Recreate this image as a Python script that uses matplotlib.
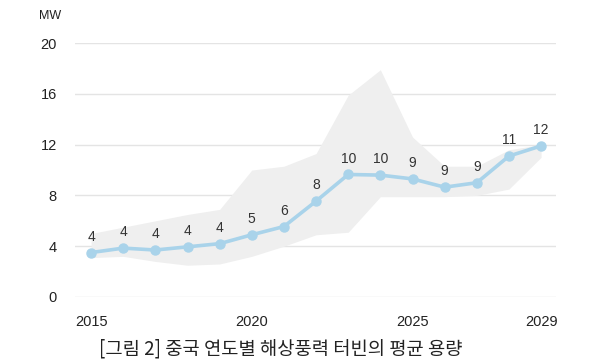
import numpy as np
import matplotlib.pyplot as plt

plt.rcParams['font.family'] = ['Liberation Sans', 'Noto Sans CJK KR', 'DejaVu Sans']

# average offshore turbine capacity by year (MW)
years = np.arange(2015, 2030)
avg_mw = [3.5, 3.85, 3.7, 3.95, 4.2, 4.9, 5.55, 7.55, 9.65, 9.6, 9.3, 8.65, 9.0, 11.1, 11.9]
labels = ['4', '4', '4', '4', '4', '5', '6', '8', '10', '10', '9', '9', '9', '11', '12']

# grey range band (min / max)
band_hi = [5.0, 5.5, 6.0, 6.5, 6.9, 10.0, 10.3, 11.3, 15.9, 17.9, 12.6, 10.3, 10.3, 11.6, 12.0]
band_lo = [3.1, 3.2, 2.8, 2.5, 2.6, 3.2, 4.0, 4.9, 5.1, 7.9, 7.9, 7.9, 8.0, 8.5, 11.0]

xticks = [2015, 2020, 2025, 2029]
yticks = [0, 4, 8, 12, 16, 20]

fig = plt.figure(figsize=(6, 3.62), dpi=100)
ax = fig.add_axes([0.125, 0.1796, 0.802, 0.7014])

ax.fill_between(years, band_lo, band_hi, color='#efefef', lw=0, zorder=2)
ax.plot(years, avg_mw, color='#a9d3ea', lw=2.6, marker='o', ms=6.5, zorder=3)

for x, y, t in zip(years, avg_mw, labels):
    ax.annotate(t, (x, y), xytext=(0, 11.5), textcoords='offset points',
                ha='center', va='center', fontsize=10, color='#333333')

ax.set_xlim(2014.5, 2029.47)
ax.set_ylim(0, 20)
ax.set_xticks(xticks)
ax.set_yticks(yticks)
ax.yaxis.grid(True, color='#e4e4e4', lw=1, zorder=1)
ax.set_axisbelow(True)
for s in ax.spines.values():
    s.set_visible(False)
ax.tick_params(length=0, labelsize=10.5, colors='#222222')
ax.tick_params(axis='y', pad=13)
ax.tick_params(axis='x', pad=13)

fig.text(0.083, 0.955, 'MW', fontsize=9, color='#222222', ha='center', va='center')
fig.text(0.468, 0.036, '[그림 2] 중국 연도별 해상풍력 터빈의 평균 용량',
         family=['Noto Sans CJK KR', 'DejaVu Sans'], fontsize=13.5,
         color='#222222', ha='center', va='center')

fig.savefig('out.png', dpi=100)
